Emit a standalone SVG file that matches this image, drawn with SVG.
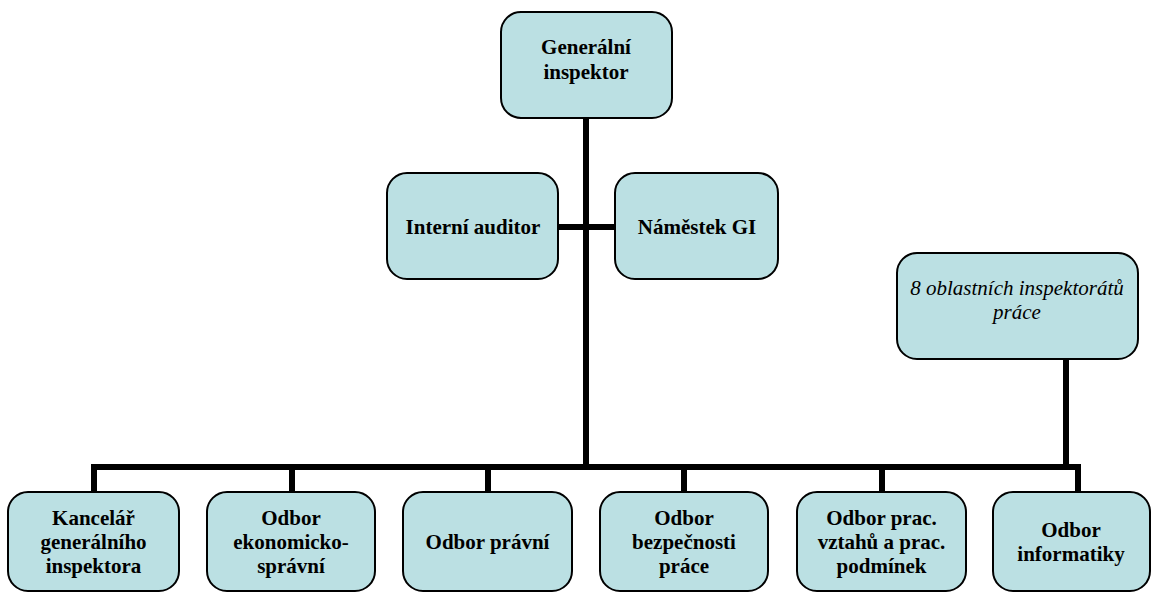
<svg xmlns="http://www.w3.org/2000/svg" width="1155" height="592" viewBox="0 0 1155 592">
<style>
.box{fill:#bbe0e3;stroke:#000;stroke-width:2}
text{font-family:'Liberation Serif','Times New Roman',serif;font-size:21px;fill:#000;text-anchor:middle}
.t{font-weight:bold}
.ti{font-style:italic}
.c{stroke:#000;stroke-width:6;fill:none}
</style>
<rect width="1155" height="592" fill="#fff"/>
<g id="connectors">
<line class="c" x1="586" y1="118" x2="586" y2="467"/>
<line class="c" x1="558" y1="227" x2="615" y2="227"/>
<line class="c" x1="91" y1="467" x2="1081" y2="467"/>
<line class="c" x1="94" y1="467" x2="94" y2="492"/>
<line class="c" x1="292" y1="467" x2="292" y2="492"/>
<line class="c" x1="488" y1="467" x2="488" y2="492"/>
<line class="c" x1="684" y1="467" x2="684" y2="492"/>
<line class="c" x1="882" y1="467" x2="882" y2="492"/>
<line class="c" x1="1078" y1="464" x2="1078" y2="492"/>
<line class="c" x1="1066" y1="359" x2="1066" y2="467"/>
</g>
<g id="gi">
<rect class="box" x="501" y="12" width="171" height="106" rx="20"/>
<text class="t" x="586" y="54">Generální</text>
<text class="t" x="586" y="79">inspektor</text>
</g>
<g id="auditor">
<rect class="box" x="387" y="173" width="171" height="106" rx="20"/>
<text class="t" x="473" y="234">Interní auditor</text>
</g>
<g id="namestek">
<rect class="box" x="615" y="173" width="163" height="106" rx="20"/>
<text class="t" x="697" y="234">Náměstek GI</text>
</g>
<g id="oip">
<rect class="box" x="897" y="253" width="241" height="106" rx="20"/>
<text class="ti" x="1017" y="295">8 oblastních inspektorátů</text>
<text class="ti" x="1017" y="319">práce</text>
</g>
<g id="kancelar">
<rect class="box" x="8" y="492" width="171" height="99" rx="20"/>
<text class="t" x="93.5" y="525">Kancelář</text>
<text class="t" x="93.5" y="549">generálního</text>
<text class="t" x="93.5" y="573">inspektora</text>
</g>
<g id="ekonom">
<rect class="box" x="207" y="492" width="168" height="99" rx="20"/>
<text class="t" x="291" y="525">Odbor</text>
<text class="t" x="291" y="549">ekonomicko-</text>
<text class="t" x="291" y="573">správní</text>
</g>
<g id="pravni">
<rect class="box" x="403" y="492" width="169" height="99" rx="20"/>
<text class="t" x="487.5" y="549">Odbor právní</text>
</g>
<g id="bezpecnost">
<rect class="box" x="600" y="492" width="168" height="99" rx="20"/>
<text class="t" x="684" y="525">Odbor</text>
<text class="t" x="684" y="549">bezpečnosti</text>
<text class="t" x="684" y="573">práce</text>
</g>
<g id="vztahy">
<rect class="box" x="797" y="492" width="169" height="99" rx="20"/>
<text class="t" x="881.5" y="525">Odbor prac.</text>
<text class="t" x="881.5" y="549">vztahů a prac.</text>
<text class="t" x="881.5" y="573">podmínek</text>
</g>
<g id="informatika">
<rect class="box" x="993" y="492" width="157" height="99" rx="20"/>
<text class="t" x="1071" y="537">Odbor</text>
<text class="t" x="1071" y="561">informatiky</text>
</g>
</svg>
